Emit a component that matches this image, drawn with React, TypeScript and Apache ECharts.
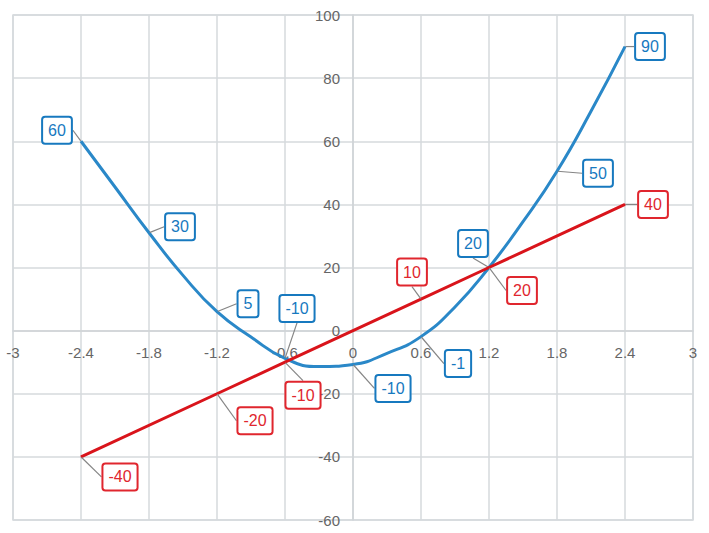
import React, { useEffect, useRef } from "react";
import * as echarts from "echarts";

// blue curve positions
const xValuesBlue = [-2.4, -2.1, -1.8, -1.5, -1.2, -0.9, -0.6, -0.3, 0, 0.3, 0.6, 0.9, 1.2, 1.5, 1.8, 2.1, 2.4];
const blueValues = [60, 45.5, 31, 17.5, 6, -2, -8.8, -11.4, -10.7, -7.2, -1.9, 7.5, 20, 34.5, 50.5, 69.5, 90];
// printed label texts ("" = no label at that point)
const blueLabels = ["60", "", "30", "", "5", "", "-10", "", "-10", "", "-1", "", "20", "", "50", "", "90"];

const xValuesRed = [-2.4, -1.2, -0.6, 0, 0.6, 1.2, 2.4];
const redValues = [-40, -20, -10, 0, 10, 20, 40];
const redLabels = ["-40", "-20", "-10", "", "10", "20", "40"];

// label offsets (px) from the data point: styling only
const blueOffsets = [
  [-24, -11], [0, 0], [31, -6], [0, 0], [31, -8], [0, 0], [12, -50], [0, 0], [40, 24],
  [0, 0], [37, 27], [0, 0], [-16, -24], [0, 0], [41, 2], [0, 0], [25, 0],
];
const redOffsets = [[39, 20], [38, 27], [18, 33], [0, 0], [-9, -27], [33, 23], [28, 0]];

const BLUE = "#2a88c8";
const BLUE_TXT = "#1779bf";
const RED = "#d9141b";
const RED_TXT = "#e0262e";
const FONT = "Liberation Sans, Arial, sans-serif";

export default function App() {
  const ref = useRef<HTMLDivElement>(null);
  useEffect(() => {
    const chart = echarts.init(ref.current!, null, { renderer: "svg" });
    const W = 709, H = 533;
    const G = { left: 13, right: 16, top: 15, bottom: 13 };
    const gw = W - G.left - G.right;
    const gh = H - G.top - G.bottom;
    const xMin = -3, xMax = 3, yMin = -60, yMax = 100;
    const xAxisOffset = -gh * (0 - yMin) / (yMax - yMin);
    const yAxisOffset = -gw * (0 - xMin) / (xMax - xMin);

    const mkLabel = (c: string, texts: string[]) => ({
      show: true,
      position: "inside",
      formatter: (p: any) => texts[p.dataIndex],
      color: c,
      fontFamily: FONT,
      fontSize: 16,
      backgroundColor: "#fff",
      borderColor: c,
      borderWidth: 2,
      borderRadius: 2,
      padding: [5, 5, 4, 5],
    });
    const mkLayout = (offs: number[][]) => (params: any) => {
      const r = params.rect;
      const o = offs[params.dataIndex] || [0, 0];
      return {
        x: r.x + r.width / 2 + o[0],
        y: r.y + r.height / 2 + o[1],
        align: "center",
        verticalAlign: "middle",
      };
    };
    const mkData = (xs: number[], ys: number[], texts: string[]) =>
      xs.map((x, i) => ({ value: [x, ys[i]], label: { show: texts[i] !== "" } }));

    chart.setOption({
      animation: false,
      grid: {
        ...G,
        containLabel: false,
        outerBoundsMode: "none",
        show: true,
        borderColor: "#d6dadd",
        borderWidth: 1.5,
      },
      xAxis: {
        type: "value",
        min: xMin,
        max: xMax,
        interval: 0.6,
        offset: xAxisOffset,
        axisLine: { onZero: false, lineStyle: { color: "#cfd3d6", width: 1.5 } },
        axisTick: { show: false },
        axisLabel: {
          margin: 14,
          color: "#666",
          fontSize: 15,
          fontFamily: FONT,
          formatter: (v: number) => String(Math.round(v * 10) / 10),
        },
        splitLine: { show: true, lineStyle: { color: "#d6dadd", width: 1.5 } },
      },
      yAxis: {
        type: "value",
        min: yMin,
        max: yMax,
        interval: 20,
        offset: yAxisOffset,
        axisLine: { onZero: false, lineStyle: { color: "#cfd3d6", width: 1.5 } },
        axisTick: { show: false },
        axisLabel: {
          margin: 13,
          color: "#666",
          fontSize: 15,
          fontFamily: FONT,
        },
        splitLine: { show: true, lineStyle: { color: "#d6dadd", width: 1.5 } },
      },
      series: [
        {
          type: "line",
          smooth: 0.5,
          data: mkData(xValuesBlue, blueValues, blueLabels),
          symbol: "circle",
          symbolSize: 1,
          itemStyle: { color: BLUE },
          lineStyle: { color: BLUE, width: 3 },
          label: mkLabel(BLUE_TXT, blueLabels),
          labelLine: { show: true, lineStyle: { color: "#858585", width: 1.2 } },
          labelLayout: mkLayout(blueOffsets),
          z: 3,
        },
        {
          type: "line",
          data: mkData(xValuesRed, redValues, redLabels),
          symbol: "circle",
          symbolSize: 1,
          itemStyle: { color: RED },
          lineStyle: { color: RED, width: 3 },
          label: mkLabel(RED_TXT, redLabels),
          labelLine: { show: true, lineStyle: { color: "#858585", width: 1.2 } },
          labelLayout: mkLayout(redOffsets),
          z: 4,
        },
      ],
    });
    return () => chart.dispose();
  }, []);
  return <div ref={ref} style={{ width: 709, height: 533, position: "absolute", left: 0, top: 0, background: "#fff" }} />;
}
